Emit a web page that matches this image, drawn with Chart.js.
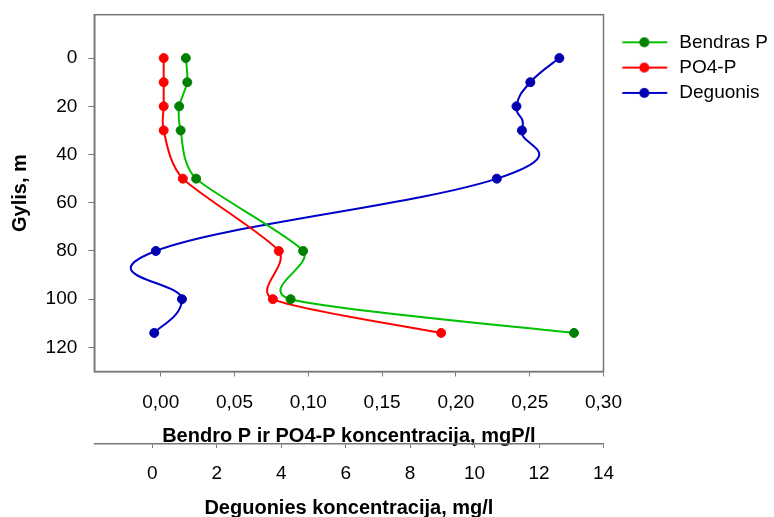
<!DOCTYPE html>
<html>
<head>
<meta charset="utf-8">
<script src="https://cdn.jsdelivr.net/npm/chart.js@4"></script>
<style>
  html, body { margin: 0; padding: 0; background: #fff; }
  #wrap { width: 774px; height: 517px; }
</style>
</head>
<body>
<div id="wrap"><canvas id="c" width="774" height="517"></canvas></div>
<script>
// Data
const depths = [0, 10, 20, 30, 50, 80, 100, 114];
const bendrasP = [0.017, 0.018, 0.0125, 0.0135, 0.024, 0.0965, 0.088, 0.28];
const po4P = [0.002, 0.002, 0.002, 0.002, 0.015, 0.080, 0.076, 0.19];
const deguonis = [12.63, 11.73, 11.3, 11.47, 10.69, 0.11, 0.92, 0.06];

const depthTicks = [0, 20, 40, 60, 80, 100, 120];
const pTicks = [0, 0.05, 0.10, 0.15, 0.20, 0.25, 0.30];
const oxTicks = [0, 2, 4, 6, 8, 10, 12, 14];

const GRAY = '#777';
const FONT = 'Liberation Sans, Arial, sans-serif';

function pts(xs) {
    return depths.map((d, i) => ({ x: xs[i], y: d }));
}

// legend swatch: short line with a marker on it
function swatch(lineColor, dotColor) {
    const c = document.createElement('canvas');
    c.width = 60;
    c.height = 14;
    const g = c.getContext('2d');
    g.strokeStyle = lineColor;
    g.lineWidth = 2;
    g.beginPath();
    g.moveTo(12.5, 7);
    g.lineTo(57.5, 7);
    g.stroke();
    g.fillStyle = dotColor;
    g.beginPath();
    g.arc(34.5, 7, 5, 0, Math.PI * 2);
    g.fill();
    return c;
}

const series = [
    { label: 'Bendras P', data: pts(bendrasP), line: '#00c000', dot: '#008000', axis: 'x', smooth: 0.12 },
    { label: 'PO4-P', data: pts(po4P), line: '#ff0000', dot: '#ff0000', axis: 'x', smooth: 0.12 },
    { label: 'Deguonis', data: pts(deguonis), line: '#0000c8', dot: '#0000b0', axis: 'x2', smooth: 0.22 }
];

// Excel-like smoothing: Catmull-Rom style control points on the pixel positions
const smoothPlugin = {
    id: 'smooth',
    beforeDatasetDraw(chart, args) {
        const meta = args.meta;
        const k = series[args.index].smooth;
        meta.dataset.updateControlPoints(chart.chartArea, 'x');
        const p = meta.data;
        const n = p.length;
        for (let i = 0; i < n; i++) {
            const prev = p[Math.max(i - 1, 0)];
            const next = p[Math.min(i + 1, n - 1)];
            const dx = next.x - prev.x;
            const dy = next.y - prev.y;
            p[i].cp1x = p[i].x - k * dx;
            p[i].cp1y = p[i].y - k * dy;
            p[i].cp2x = p[i].x + k * dx;
            p[i].cp2y = p[i].y + k * dy;
        }
    }
};

const framePlugin = {
    id: 'frame',
    beforeDatasetsDraw(chart) {
        const a = chart.chartArea;
        const ctx = chart.ctx;
        ctx.save();
        ctx.strokeStyle = GRAY;
        ctx.lineWidth = 1.5;
        ctx.strokeRect(a.left, a.top, a.right - a.left, a.bottom - a.top);
        ctx.restore();
    }
};

function fixedTicks(list) {
    return scale => { scale.ticks = list.map(v => ({ value: v })); };
}

function noPad(s) {
    s.paddingTop = 0;
    s.paddingBottom = 0;
    s.paddingLeft = 0;
    s.paddingRight = 0;
}

new Chart(document.getElementById('c'), {
    type: 'scatter',
    data: {
        datasets: series.map(s => ({
            label: s.label,
            data: s.data,
            xAxisID: s.axis,
            showLine: true,
            tension: 0.4,
            borderColor: s.line,
            borderWidth: 2,
            pointRadius: 4.5,
            pointBorderWidth: 1,
            pointBackgroundColor: s.dot,
            pointBorderColor: s.dot
        }))
    },
    options: {
        responsive: false,
        animation: false,
        layout: { padding: { top: 14.7, left: 0, right: 0, bottom: 0 } },
        plugins: {
            tooltip: { enabled: false },
            legend: {
                position: 'right',
                align: 'start',
                maxWidth: 170.5,
                title: { display: true, text: '', font: { size: 1, lineHeight: 1 }, padding: { top: 10.8, bottom: 0 } },
                labels: {
                    usePointStyle: true,
                    pointStyleWidth: 60,
                    padding: 6.3,
                    color: '#000',
                    font: { family: FONT, size: 19 },
                    generateLabels: chart => series.map((s, i) => ({
                        text: s.label,
                        pointStyle: swatch(s.line, s.dot),
                        fillStyle: s.dot,
                        strokeStyle: s.dot,
                        lineWidth: 0,
                        hidden: false,
                        datasetIndex: i,
                        fontColor: '#000'
                    }))
                }
            }
        },
        scales: {
            y: {
                type: 'linear',
                position: 'left',
                reverse: true,
                min: -18,
                max: 130,
                afterBuildTicks: fixedTicks(depthTicks),
                afterFit: s => { s.width = 94.3; noPad(s); },
                grid: { drawOnChartArea: false, drawTicks: true, tickLength: 6, color: GRAY },
                border: { color: GRAY, width: 1.5 },
                ticks: { color: '#000', padding: 11, font: { family: FONT, size: 19 } },
                title: {
                    display: true,
                    text: 'Gylis, m',
                    color: '#000',
                    font: { family: FONT, size: 20, weight: 'bold' },
                    padding: { top: 8.5, bottom: 0 }
                }
            },
            x: {
                type: 'linear',
                position: 'bottom',
                weight: 0,
                min: -0.045,
                max: 0.30,
                afterBuildTicks: fixedTicks(pTicks),
                afterFit: s => { s.height = 72.5; noPad(s); },
                grid: { drawOnChartArea: false, drawTicks: true, tickLength: 5, color: GRAY },
                border: { color: GRAY, width: 1.5 },
                ticks: {
                    color: '#000',
                    padding: 15,
                    maxRotation: 0,
                    autoSkip: false,
                    font: { family: FONT, size: 19 },
                    callback: v => v.toFixed(2).replace('.', ',')
                },
                title: {
                    display: true,
                    text: 'Bendro P ir PO4-P koncentracija, mgP/l',
                    color: '#000',
                    font: { family: FONT, size: 20, weight: 'bold' },
                    padding: { top: 0, bottom: -4.3 }
                }
            },
            x2: {
                type: 'linear',
                position: 'bottom',
                weight: 1,
                min: -1.8,
                max: 14,
                afterBuildTicks: fixedTicks(oxTicks),
                afterFit: s => { s.height = 73; noPad(s); },
                grid: { drawOnChartArea: false, drawTicks: true, tickLength: 4, color: GRAY },
                border: { color: GRAY, width: 1.5 },
                ticks: {
                    color: '#000',
                    padding: 14.4,
                    maxRotation: 0,
                    autoSkip: false,
                    font: { family: FONT, size: 19 },
                    callback: v => String(v)
                },
                title: {
                    display: true,
                    text: 'Deguonies koncentracija, mg/l',
                    color: '#000',
                    font: { family: FONT, size: 20, weight: 'bold' },
                    padding: { top: 0, bottom: -3 }
                }
            }
        }
    },
    plugins: [smoothPlugin, framePlugin]
});
</script>
</body>
</html>
